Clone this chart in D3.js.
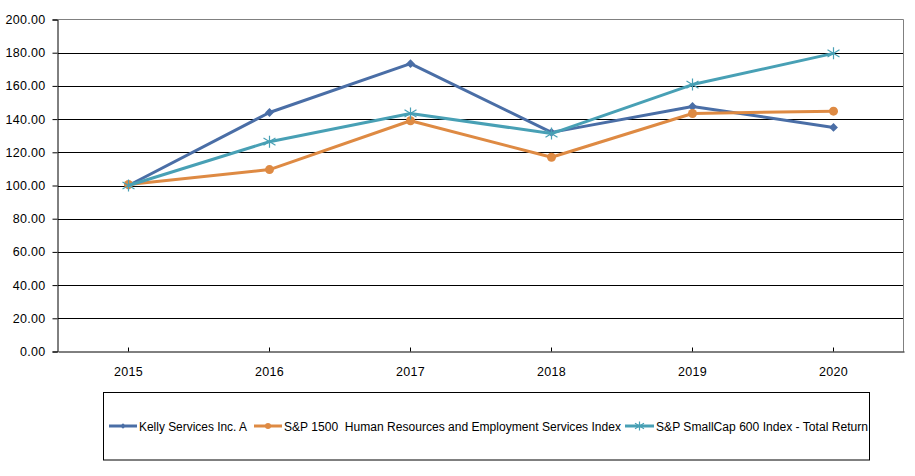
<!DOCTYPE html>
<html>
<head>
<meta charset="utf-8">
<script src="https://cdn.jsdelivr.net/npm/d3@7"></script>
<style>
  body { margin: 0; background: #fff; }
  text { font-family: "Liberation Sans", Arial, sans-serif; fill: #000; }
</style>
</head>
<body>
<div id="chart"></div>
<script>
// Data
const years = ["2015", "2016", "2017", "2018", "2019", "2020"];
const kellyValues = [100.0, 144.0, 173.4, 132.0, 147.6, 135.0];
const hrIndexValues = [100.6, 109.6, 139.0, 117.0, 143.4, 144.8];
const smallCapValues = [100.0, 126.4, 143.4, 131.3, 160.8, 179.6];
const seriesNames = [
    "Kelly Services Inc. A",
    "S&P 1500\u00a0\u00a0Human Resources and Employment Services Index",
    "S&P SmallCap 600 Index - Total Return"
];
const yTicks = [0, 20, 40, 60, 80, 100, 120, 140, 160, 180, 200];

(function () {
    const W = 915, H = 476;
    const plot = { left: 58, right: 904, top: 19.5, bottom: 351.5 };

    const series = [
        { name: seriesNames[0], values: kellyValues, color: "#4a6ea6", marker: "diamond" },
        { name: seriesNames[1], values: hrIndexValues, color: "#de8a43", marker: "circle" },
        { name: seriesNames[2], values: smallCapValues, color: "#48a0b5", marker: "star" }
    ];

    const svg = d3.select("#chart")
        .append("svg")
        .attr("width", W)
        .attr("height", H);

    const x = d3.scaleBand()
        .domain(years)
        .range([plot.left, plot.right]);

    const y = d3.scaleLinear()
        .domain([0, 200])
        .range([plot.bottom, plot.top]);

    // horizontal grid lines
    svg.append("g")
        .selectAll("line")
        .data(yTicks.filter((t) => t > 0 && t < 200))
        .join("line")
        .attr("x1", plot.left)
        .attr("x2", plot.right)
        .attr("y1", (d) => Math.round(y(d)) + 0.5)
        .attr("y2", (d) => Math.round(y(d)) + 0.5)
        .attr("stroke", "#000")
        .attr("stroke-width", 1);

    // gray top & right border
    svg.append("path")
        .attr("d", `M${plot.left},${plot.top}H${plot.right - 0.5}V${plot.bottom}`)
        .attr("fill", "none")
        .attr("stroke", "#808080")
        .attr("stroke-width", 1);

    // Y axis
    const yAxis = svg.append("g")
        .attr("transform", `translate(${plot.left - 0.5},0)`)
        .call(d3.axisLeft(y).tickValues(yTicks).tickFormat(d3.format(".2f")).tickSize(5).tickPadding(7));
    yAxis.select(".domain").attr("stroke", "#000");
    yAxis.selectAll(".tick line").attr("stroke", "#000");
    yAxis.selectAll("text")
        .attr("font-size", 12.5)
        .attr("font-family", "Liberation Sans, Arial, sans-serif")
        .attr("fill", "#000")
        .attr("letter-spacing", 0.3);

    // X axis (ticks pointing inward at category centres)
    const xAxis = svg.append("g")
        .attr("transform", `translate(0,${plot.bottom})`)
        .call(d3.axisBottom(x).tickSizeInner(-4).tickSizeOuter(0).tickPadding(16));
    xAxis.select(".domain").attr("stroke", "#000");
    xAxis.selectAll(".tick line").attr("stroke", "#000");
    xAxis.selectAll("text")
        .attr("font-size", 12.5)
        .attr("font-family", "Liberation Sans, Arial, sans-serif")
        .attr("fill", "#000")
        .attr("letter-spacing", 0.3);

    const cx = (i) => x(years[i]) + x.bandwidth() / 2;

    const line = d3.line()
        .x((d, i) => cx(i))
        .y((d) => y(d));

    function drawMarker(g, type, color, size) {
        if (type === "diamond") {
            g.append("path")
                .attr("d", d3.symbol(d3.symbolDiamond2 || d3.symbolDiamond, size * size * 0.5)())
                .attr("fill", color);
        } else if (type === "circle") {
            g.append("circle")
                .attr("r", size / 2)
                .attr("fill", color);
        } else {
            const r = size / 2;
            g.append("path")
                .attr("d", `M${-r},${-r * 0.6}L${r},${r * 0.6}M${-r},${r * 0.6}L${r},${-r * 0.6}M0,${-r}V${r}`)
                .attr("stroke", color)
                .attr("stroke-width", 1.2)
                .attr("fill", "none");
        }
    }

    series.forEach((s) => {
        svg.append("path")
            .datum(s.values)
            .attr("fill", "none")
            .attr("stroke", s.color)
            .attr("stroke-width", 3)
            .attr("stroke-linejoin", "round")
            .attr("d", line);

        s.values.forEach((v, i) => {
            const g = svg.append("g")
                .attr("transform", `translate(${cx(i)},${y(v)})`);
            const sz = s.marker === "diamond" ? 10 : s.marker === "circle" ? 9 : 12;
            drawMarker(g, s.marker, s.color, sz);
        });
    });

    // Legend
    const legend = { left: 103.5, top: 392.5, right: 869.5, bottom: 460 };
    svg.append("rect")
        .attr("x", legend.left)
        .attr("y", legend.top)
        .attr("width", legend.right - legend.left)
        .attr("height", legend.bottom - legend.top)
        .attr("fill", "#fff")
        .attr("stroke", "#000")
        .attr("stroke-width", 1);

    const legendItems = [
        { x1: 109, x2: 137, tx: 139, tw: 108 },
        { x1: 254, x2: 282, tx: 284, tw: 337 },
        { x1: 625, x2: 654, tx: 656, tw: 212 }
    ];
    const ly = 426;
    series.forEach((s, i) => {
        const it = legendItems[i];
        svg.append("line")
            .attr("x1", it.x1).attr("x2", it.x2)
            .attr("y1", ly).attr("y2", ly)
            .attr("stroke", s.color)
            .attr("stroke-width", 3);
        const g = svg.append("g").attr("transform", `translate(${(it.x1 + it.x2) / 2},${ly})`);
        drawMarker(g, s.marker, s.color, s.marker === "star" ? 9 : 6);
        svg.append("text")
            .attr("x", it.tx)
            .attr("y", ly + 4.5)
            .attr("font-size", 12.5)
            .attr("textLength", it.tw)
            .attr("lengthAdjust", "spacingAndGlyphs")
            .text(s.name);
    });
})();
</script>
</body>
</html>
